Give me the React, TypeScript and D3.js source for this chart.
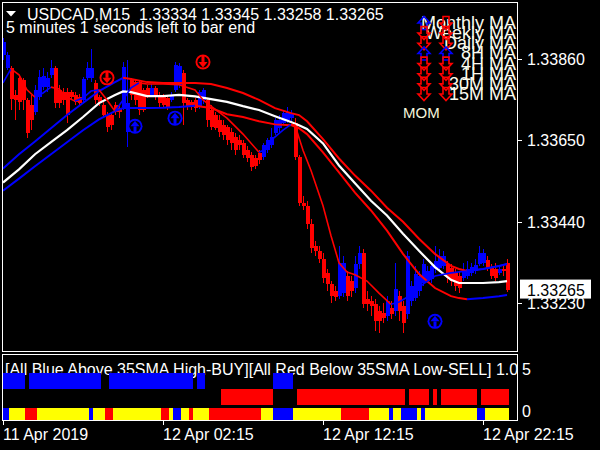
import React from "react";
import * as d3 from "d3";

// ---------- text / ticks ----------
const symbolName = "USDCAD,M15";
const headerPrices = ["1.33334", "1.33345", "1.33258", "1.33265"];
const timerText = "5 minutes 1 seconds left to bar end";
const subTitle = "[All Blue Above 35SMA High-BUY][All Red Below 35SMA Low-SELL] 1.0";
const priceTicks = [1.3386, 1.3365, 1.3344, 1.3323];
const timeTickBars = [0, 40, 80, 120];
const timeTickLabels = ["11 Apr 2019", "12 Apr 02:15", "12 Apr 12:15", "12 Apr 22:15"];
const subTickLabels = ["5", "0"];
const lastPrice = 1.33265;

// ---------- candles (bar 0 .. 126, M15) ----------
const openP = [
  1.3387, 1.33837, 1.33837, 1.33767, 1.33811, 1.33806, 1.33754, 1.33741, 1.33723, 1.33762,
  1.33787, 1.33787, 1.33819, 1.33837, 1.3378, 1.33775, 1.33775, 1.33775, 1.33767, 1.33762,
  1.33754, 1.33811, 1.33811, 1.33798, 1.33762, 1.33741, 1.33715, 1.33715, 1.33741, 1.33733,
  1.33736, 1.33671, 1.33806, 1.338, 1.338, 1.3378, 1.33785, 1.33767, 1.33785, 1.33767,
  1.33764, 1.33759, 1.33754, 1.3378, 1.33793, 1.33824, 1.33754, 1.33749, 1.33754, 1.33736,
  1.33754, 1.33754, 1.33728, 1.33715, 1.33702, 1.33689, 1.33684, 1.33671, 1.33658, 1.3365,
  1.33642, 1.33624, 1.33611, 1.33603, 1.33616, 1.33606, 1.33624, 1.33637, 1.33668, 1.33681,
  1.33694, 1.33702, 1.33707, 1.33694, 1.33606, 1.33489, 1.33481, 1.33435, 1.33378, 1.33365,
  1.33344, 1.33308, 1.33279, 1.33261, 1.33248, 1.33256, 1.333, 1.33287, 1.33269, 1.33331,
  1.3336, 1.3324, 1.33235, 1.33227, 1.33209, 1.33204, 1.33196, 1.33217, 1.33209, 1.33248,
  1.33222, 1.33202, 1.33235, 1.33243, 1.33261, 1.33282, 1.33287, 1.33292, 1.33318, 1.33321,
  1.33326, 1.33331, 1.33321, 1.33308, 1.333, 1.33295, 1.333, 1.33308, 1.33313, 1.33331,
  1.33334, 1.33342, 1.33321, 1.33318, 1.33308, 1.33318, 1.33334,
];
const closeP = [
  1.33904, 1.3387, 1.33756, 1.33754, 1.33749, 1.33754, 1.33668, 1.33702, 1.3378, 1.33813,
  1.33816, 1.33811, 1.33837, 1.33746, 1.33746, 1.33754, 1.33715, 1.33762, 1.33749, 1.33746,
  1.33808, 1.33837, 1.33837, 1.33754, 1.33746, 1.33715, 1.33684, 1.33689, 1.33723, 1.33723,
  1.33839, 1.33746, 1.33767, 1.33754, 1.33728, 1.33728, 1.33767, 1.33785, 1.33767, 1.33746,
  1.33741, 1.33736, 1.33767, 1.33845, 1.33842, 1.33746, 1.33738, 1.33736, 1.33733, 1.33775,
  1.3378, 1.33702, 1.33684, 1.33681, 1.33671, 1.33663, 1.3365, 1.33642, 1.33624, 1.33637,
  1.33611, 1.33603, 1.3358, 1.33583, 1.33598, 1.33637, 1.3365, 1.33658, 1.33702, 1.33702,
  1.3372, 1.33723, 1.33717, 1.33606, 1.33489, 1.33481, 1.33435, 1.33373, 1.33365, 1.33344,
  1.33295, 1.33279, 1.33248, 1.33246, 1.33334, 1.33334, 1.33248, 1.33261, 1.33331, 1.3336,
  1.33227, 1.33227, 1.33222, 1.33183, 1.33183, 1.33191, 1.33235, 1.33202, 1.33266, 1.33209,
  1.33178, 1.33352, 1.33274, 1.33305, 1.333, 1.33331, 1.33313, 1.33326, 1.33339, 1.33352,
  1.33352, 1.33295, 1.33287, 1.33274, 1.33269, 1.33313, 1.33318, 1.33323, 1.33329, 1.3336,
  1.3336, 1.33321, 1.333, 1.33295, 1.33318, 1.33313, 1.33265,
];
const highP = [
  1.33915, 1.33878, 1.33842, 1.3378, 1.33819, 1.33811, 1.33759, 1.33767, 1.33793, 1.33832,
  1.33837, 1.33826, 1.33857, 1.33842, 1.33793, 1.33785, 1.33785, 1.3378, 1.33775, 1.33769,
  1.33813, 1.33852, 1.33886, 1.33806, 1.33767, 1.33749, 1.33723, 1.3372, 1.33749, 1.33743,
  1.33852, 1.33857, 1.33811, 1.33806, 1.33806, 1.33785, 1.33793, 1.33795, 1.3379, 1.33775,
  1.33769, 1.33767, 1.33775, 1.33852, 1.3385, 1.33832, 1.33759, 1.33754, 1.33759, 1.3378,
  1.33785, 1.33759, 1.33741, 1.33723, 1.33715, 1.33702, 1.33689, 1.33681, 1.33668, 1.33663,
  1.3365, 1.33635, 1.33619, 1.33611, 1.33624, 1.33642, 1.33655, 1.33681, 1.33707, 1.33715,
  1.33728, 1.33736, 1.33728, 1.33707, 1.33611, 1.33507, 1.33494, 1.33448, 1.33391, 1.33378,
  1.3336, 1.33318, 1.33287, 1.33274, 1.33378, 1.33352, 1.33313, 1.333, 1.33352, 1.33378,
  1.3337, 1.33261, 1.33248, 1.3324, 1.33222, 1.3323, 1.33248, 1.33235, 1.33334, 1.33261,
  1.33235, 1.33365, 1.33287, 1.33326, 1.33313, 1.33344, 1.33326, 1.33334, 1.33378, 1.3337,
  1.33365, 1.33339, 1.33331, 1.33318, 1.33313, 1.33334, 1.33339, 1.33334, 1.33344, 1.33378,
  1.3337, 1.33352, 1.33331, 1.33334, 1.33326, 1.33329, 1.33345,
];
const lowP = [
  1.33857, 1.33832, 1.33728, 1.33702, 1.33728, 1.33728, 1.33655, 1.33676, 1.33715, 1.33754,
  1.3378, 1.33775, 1.33811, 1.33733, 1.33733, 1.33741, 1.33694, 1.33754, 1.33741, 1.33738,
  1.33749, 1.33806, 1.338, 1.33743, 1.33738, 1.33707, 1.33671, 1.33676, 1.33715, 1.33707,
  1.33728, 1.33632, 1.33754, 1.33741, 1.33715, 1.33723, 1.33759, 1.33762, 1.33754, 1.33733,
  1.33733, 1.33728, 1.33749, 1.33775, 1.33785, 1.33689, 1.33728, 1.33728, 1.33723, 1.3373,
  1.33743, 1.33684, 1.33676, 1.33676, 1.33658, 1.3365, 1.33637, 1.33624, 1.33611, 1.33624,
  1.33603, 1.33593, 1.33572, 1.33577, 1.3359, 1.33598, 1.33616, 1.33629, 1.33663, 1.33671,
  1.33689, 1.33694, 1.33697, 1.33598, 1.33481, 1.33469, 1.33422, 1.3336, 1.33352, 1.33334,
  1.33282, 1.33261, 1.3323, 1.33235, 1.3324, 1.33246, 1.33235, 1.33246, 1.33256, 1.33318,
  1.33217, 1.33209, 1.33196, 1.33157, 1.33152, 1.33178, 1.33183, 1.33189, 1.33196, 1.33183,
  1.33152, 1.33189, 1.33222, 1.33235, 1.33248, 1.33274, 1.33282, 1.33282, 1.33308, 1.33313,
  1.33318, 1.33282, 1.33274, 1.33261, 1.33256, 1.33287, 1.33292, 1.333, 1.33305, 1.33326,
  1.33326, 1.33313, 1.33292, 1.33287, 1.33303, 1.333, 1.33258,
];

// ---------- moving averages (read at bar indices) ----------
const maBars = [0, 4, 8, 12, 16, 20, 24, 28, 30, 32, 36, 40, 44, 48, 52, 56, 60, 64, 68, 72, 74, 76, 80, 84, 88, 92, 96, 100, 104, 108, 112, 114, 116, 120, 124, 126];
const maMid = [
  1.33541, 1.33575, 1.33614, 1.33645, 1.33676, 1.3371, 1.33746, 1.33767, 1.33776, 1.33774,
  1.33764, 1.33764, 1.33767, 1.33763, 1.33756, 1.33749, 1.33738, 1.33728, 1.33712, 1.33697,
  1.33689, 1.33679, 1.33642, 1.33585, 1.33539, 1.33494, 1.33456, 1.33409, 1.33365, 1.33323,
  1.3329, 1.33282, 1.33282, 1.33282, 1.33284, 1.33287,
];
const maUpper = [
  1.33577, 1.33614, 1.33647, 1.33681, 1.33715, 1.33746, 1.33777, 1.338, 1.33811, 1.33808,
  1.338, 1.33798, 1.33798, 1.33798, 1.33795, 1.33785, 1.33772, 1.33754, 1.33733, 1.3372,
  1.33715, 1.33699, 1.33653, 1.33603, 1.33559, 1.3352, 1.33476, 1.3344, 1.33396, 1.33357,
  1.33326, 1.33318, 1.33313, 1.33318, 1.33326, 1.33331,
];
const maLower = [
  1.3352, 1.33551, 1.33583, 1.33614, 1.33645, 1.33676, 1.33704, 1.33725, 1.33733, 1.33733,
  1.33733, 1.33734, 1.33736, 1.33739, 1.33733, 1.33717, 1.3371, 1.33699, 1.33691, 1.33689,
  1.33681, 1.33666, 1.33619, 1.33567, 1.33515, 1.33469, 1.33417, 1.33357, 1.33305, 1.33269,
  1.33248, 1.33243, 1.3324, 1.33243, 1.33248, 1.33251,
];
const fastBars = [0, 2, 4, 6, 8, 10, 12, 14, 16, 18, 20, 22, 24, 26, 28, 30, 32, 34, 36, 40, 44, 48, 50, 52, 56, 60, 64, 65, 67, 70, 72, 73, 75, 77, 80, 82, 84, 86, 88, 91, 94, 97, 99, 102, 105, 108, 112, 116, 120, 124, 126];
const fastMA = [
  1.33798, 1.33834, 1.33819, 1.3378, 1.33761, 1.33772, 1.33787, 1.33782, 1.33761, 1.33751,
  1.33759, 1.33777, 1.3378, 1.33754, 1.33725, 1.33754, 1.33785, 1.33798, 1.33795, 1.33795,
  1.33793, 1.3378, 1.33754, 1.33738, 1.33707, 1.33666, 1.33619, 1.33624, 1.3365, 1.33676,
  1.33691, 1.33689, 1.33624, 1.33572, 1.33481, 1.33404, 1.33334, 1.3331, 1.33303, 1.33287,
  1.33256, 1.33227, 1.33233, 1.33251, 1.33279, 1.333, 1.33308, 1.33313, 1.33318, 1.33326,
  1.33331,
];

// ---------- signal arrows ----------
const signalBars = [26, 33, 43, 50, 108];
const signalPrices = [1.33811, 1.33686, 1.33707, 1.33852, 1.33183];
const signalDirs = ["down", "up", "up", "down", "up"];

// ---------- sub-window states (run-length: state, bar count) ----------
const trendRuns: [string, number][] = [
  ["b", 6], [".", 1], ["b", 18], [".", 2], ["b", 21], [".", 1], ["b", 2], [".", 4],
  ["r", 13], ["b", 5], [".", 1], ["r", 27], [".", 1], ["r", 5], [".", 1], ["r", 1],
  [".", 1], ["r", 9], [".", 1], ["r", 7],
];
const stateRuns: [string, number][] = [
  ["b", 2], ["y", 4], ["r", 3], ["y", 13], ["b", 1], ["y", 3], ["r", 2], ["y", 12],
  ["r", 2], ["y", 1], ["b", 2], ["y", 2], ["r", 1], ["y", 4], ["r", 13], ["y", 3],
  ["b", 5], ["y", 12], ["r", 7], ["y", 5], ["b", 1], ["y", 2], ["b", 4], ["y", 1],
  ["b", 1], ["y", 13], ["b", 2], ["y", 6],
];

// ---------- MTF panel ----------
const mtfLabels = ["Monthly MA", "Weekly MA", "Daily MA", "8H MA", "4H MA", "1H MA", "30M MA", "15M MA"];
const mtfCol1 = ["up", "down", "down", "up", "down", "down", "down", "down"];
const mtfCol2 = ["down", "down", "down", "up", "down", "down", "down", "down"];
const momLabel = "MOM";

const BLUE = "#0000FF";
const RED = "#FF0000";
const YELLOW = "#FFFF00";
const FONT = "'Liberation Sans', Arial, sans-serif";

function expandRuns(runs: [string, number][]): string[] {
  const out: string[] = [];
  runs.forEach(([s, n]) => {
    for (let i = 0; i < n; i++) out.push(s);
  });
  return out;
}

function coloredSegments(bars: number[], vals: number[]) {
  const segs: { color: string; pts: [number, number][] }[] = [];
  let dir = vals[1] >= vals[0] ? 1 : -1;
  let cur: { color: string; pts: [number, number][] } | null = null;
  for (let i = 1; i < vals.length; i++) {
    if (vals[i] > vals[i - 1]) dir = 1;
    else if (vals[i] < vals[i - 1]) dir = -1;
    const color = dir > 0 ? BLUE : RED;
    if (!cur || cur.color !== color) {
      cur = { color, pts: [[bars[i - 1], vals[i - 1]]] };
      segs.push(cur);
    }
    cur.pts.push([bars[i], vals[i]]);
  }
  return segs;
}

function hollowArrow(cx: number, cy: number, dir: string) {
  const s = dir === "up" ? -1 : 1;
  const pts = [
    [-3, -6.5], [3, -6.5], [3, 0], [6, 0], [0, 6.5], [-6, 0], [-3, 0],
  ].map(([px, py]) => [cx + px, cy + py * s]);
  return "M" + pts.map((p) => p.join(",")).join("L") + "Z";
}

export default function App() {
  const x = d3.scaleLinear().domain([0, 126]).range([3, 507]);
  const y = d3.scaleLinear().domain([1.33104, 1.34004]).range([352, 3]);
  const line = d3
    .line<[number, number]>()
    .x((d) => x(d[0]))
    .y((d) => y(d[1]));

  const trend = expandRuns(trendRuns);
  const states = expandRuns(stateRuns);
  const bars = d3.range(openP.length);

  const upperSegs = coloredSegments(maBars, maUpper);
  const lowerSegs = coloredSegments(maBars, maLower);
  const fastSegs = coloredSegments(fastBars, fastMA);
  const midPts: [number, number][] = maBars.map((b, i) => [b, maMid[i]]);

  const rowY = (i: number) => 29 + i * 10.15;
  const lastY = y(lastPrice);

  return (
    <svg
      width={600}
      height={450}
      style={{ position: "absolute", left: 0, top: 0, background: "#000" }}
      fontFamily={FONT}
    >
      <defs>
        <clipPath id="mainClip">
          <rect x={3} y={3} width={514} height={348} />
        </clipPath>
        <clipPath id="subClip">
          <rect x={3} y={355} width={514} height={65} />
        </clipPath>
      </defs>
      <rect x={0} y={0} width={600} height={450} fill="#000" />

      {/* main chart */}
      <g clipPath="url(#mainClip)">
        {bars.map((k) => {
          const o = openP[k], c = closeP[k];
          const col = c >= o ? BLUE : RED;
          const xc = x(k);
          const yt = Math.round(y(Math.max(o, c)));
          const yb = Math.round(y(Math.min(o, c)));
          return (
            <g key={k} shapeRendering="crispEdges">
              <line x1={xc + 0.5} x2={xc + 0.5} y1={Math.round(y(highP[k]))} y2={Math.round(y(lowP[k]))} stroke={col} strokeWidth={1} />
              <rect x={xc - 1.5} y={yt} width={4} height={Math.max(1, yb - yt)} fill={col} />
            </g>
          );
        })}

        {upperSegs.map((s, i) => (
          <path key={"u" + i} d={line(s.pts) || ""} fill="none" stroke={s.color} strokeWidth={2} />
        ))}
        {lowerSegs.map((s, i) => (
          <path key={"l" + i} d={line(s.pts) || ""} fill="none" stroke={s.color} strokeWidth={2} />
        ))}
        <path d={line(midPts) || ""} fill="none" stroke="#FFFFFF" strokeWidth={2.2} />
        {fastSegs.map((s, i) => (
          <path key={"f" + i} d={line(s.pts) || ""} fill="none" stroke={s.color} strokeWidth={1.6} />
        ))}

        {signalBars.map((b, i) => {
          const cx = x(b), cy = y(signalPrices[i]);
          const col = signalDirs[i] === "up" ? BLUE : RED;
          const s = signalDirs[i] === "up" ? -1 : 1;
          const head = [[-4.5, 0], [4.5, 0], [0, 5.5]]
            .map(([px, py]) => `${cx + px},${cy + py * s}`)
            .join(" ");
          return (
            <g key={"sig" + i}>
              <circle cx={cx} cy={cy} r={7.5} fill={col} />
              <circle cx={cx} cy={cy} r={5.6} fill="#000" />
              <rect x={cx - 1.5} y={s > 0 ? cy - 6.5 : cy} width={3} height={6.5} fill={col} />
              <polygon points={head} fill={col} />
            </g>
          );
        })}

        {/* MTF block */}
        {mtfLabels.map((t, i) => (
          <text key={"mt" + i} x={516} y={rowY(i)} textAnchor="end" fontSize={18} fill="#FAFAEE">
            {t}
          </text>
        ))}
        {mtfCol1.map((d, i) => (
          <path key={"c1" + i} d={hollowArrow(424, rowY(i) - 6, d)} fill="none" stroke={d === "up" ? BLUE : RED} strokeWidth={1.6} />
        ))}
        {mtfCol2.map((d, i) => (
          <path key={"c2" + i} d={hollowArrow(446, rowY(i) - 6, d)} fill="none" stroke={d === "up" ? BLUE : RED} strokeWidth={1.6} />
        ))}
        <text x={403} y={118} fontSize={15} fill="#F5F5DC">{momLabel}</text>
      </g>

      {/* header texts */}
      <polygon points="6,11 16,11 11,16.5" fill="#FFFFFF" />
      <text x={27} y={20} fontSize={16} fill="#FFFFFF" style={{ whiteSpace: "pre" }}>
        {symbolName + "  " + headerPrices.join(" ")}
      </text>
      <text x={6} y={33} fontSize={16} fill="#FFFFFF">{timerText}</text>

      {/* frames */}
      <rect x={2.5} y={2.5} width={515} height={349} fill="none" stroke="#FFFFFF" strokeWidth={1} />
      <rect x={2.5} y={354.5} width={515} height={66} fill="none" stroke="#FFFFFF" strokeWidth={1} />

      {/* price axis */}
      {priceTicks.map((p) => (
        <g key={"pt" + p}>
          <line x1={518} x2={522} y1={Math.round(y(p)) + 0.5} y2={Math.round(y(p)) + 0.5} stroke="#FFFFFF" />
          <text x={527} y={y(p) + 6} fontSize={16} fill="#FFFFFF">{p.toFixed(5)}</text>
        </g>
      ))}
      <rect x={520} y={lastY - 10} width={71} height={19} fill="#FFFFFF" />
      <text x={527} y={lastY + 6} fontSize={16} fill="#000000">{lastPrice.toFixed(5)}</text>

      {/* sub window */}
      <g clipPath="url(#subClip)">
        <text x={5} y={375} fontSize={16} fill="#FFFFFF">{subTitle}</text>
        {bars.map((k) =>
          trend[k] === "." ? null : (
            <rect
              key={"t" + k}
              x={x(k) - 2}
              y={trend[k] === "b" ? 373 : 389}
              width={4}
              height={16}
              fill={trend[k] === "b" ? BLUE : RED}
              shapeRendering="crispEdges"
            />
          )
        )}
        {bars.map((k) => (
          <rect
            key={"s" + k}
            x={x(k) - 2}
            y={407.5}
            width={4}
            height={12.5}
            fill={states[k] === "b" ? BLUE : states[k] === "r" ? RED : YELLOW}
            shapeRendering="crispEdges"
          />
        ))}
      </g>
      <text x={522} y={375} fontSize={16} fill="#FFFFFF">{subTickLabels[0]}</text>
      <text x={522} y={417} fontSize={16} fill="#FFFFFF">{subTickLabels[1]}</text>

      {/* time axis */}
      {timeTickBars.map((b, i) => (
        <g key={"tt" + b}>
          <line x1={x(b) + 0.5} x2={x(b) + 0.5} y1={421} y2={425} stroke="#FFFFFF" />
          <text x={x(b)} y={440} fontSize={16} fill="#FFFFFF">{timeTickLabels[i]}</text>
        </g>
      ))}
    </svg>
  );
}
